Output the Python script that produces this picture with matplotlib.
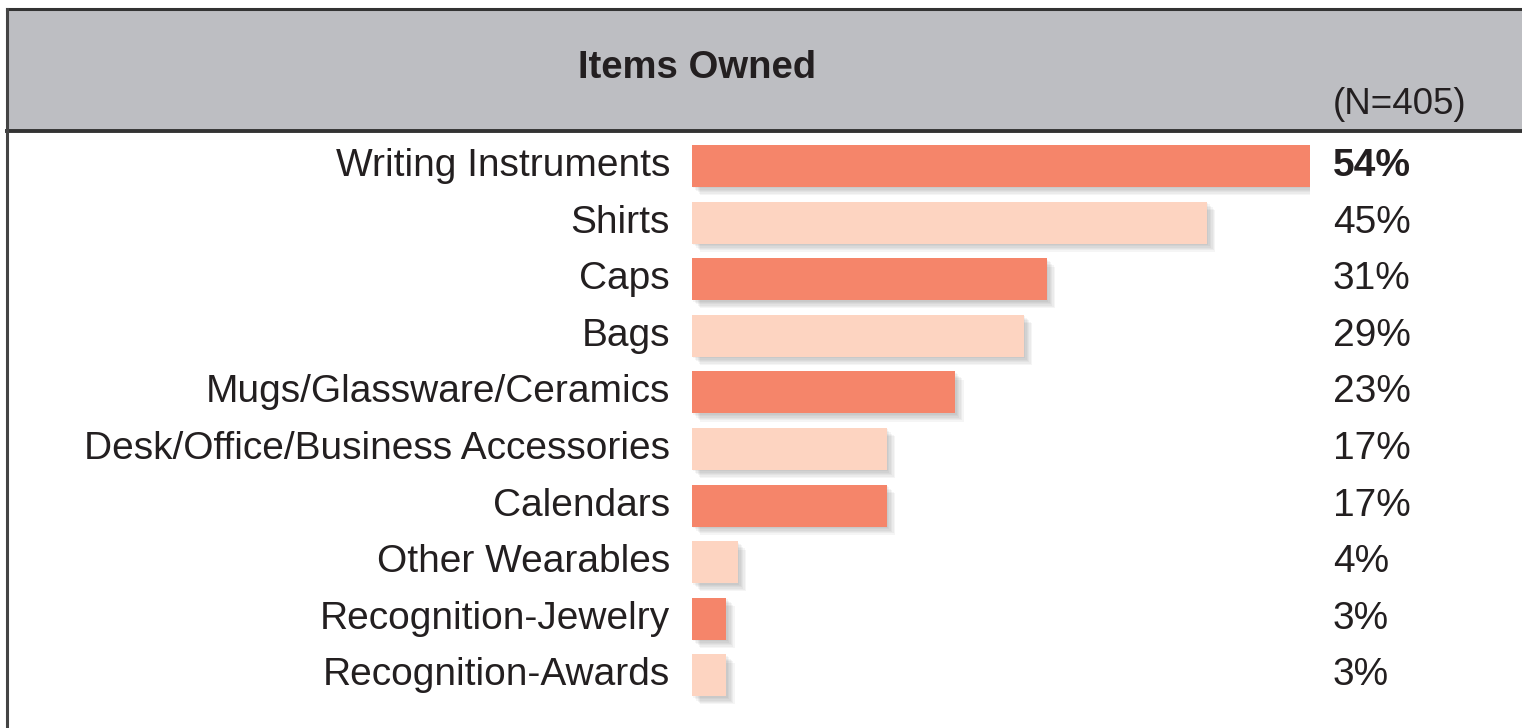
import matplotlib.pyplot as plt
import matplotlib.patheffects as pe
from matplotlib.lines import Line2D
from matplotlib.patches import Rectangle
import matplotlib.transforms as mtransforms

plt.rcParams['font.family'] = ['Liberation Sans', 'DejaVu Sans']

# data
items = ['Writing Instruments', 'Shirts', 'Caps', 'Bags',
         'Mugs/Glassware/Ceramics', 'Desk/Office/Business Accessories',
         'Calendars', 'Other Wearables', 'Recognition-Jewelry',
         'Recognition-Awards']
pct = [54, 45, 31, 29, 23, 17, 17, 4, 3, 3]
title = 'Items Owned'
n_note = '(N=405)'

dark = '#F5856A'
light = '#FDD4C1'
txt = '#231F20'

W, H = 1522, 728
fig = plt.figure(figsize=(W / 100, H / 100), dpi=100)

# header band and frame
fig.patches.append(Rectangle((7 / W, (H - 131) / H), 1, 122 / H,
                             transform=fig.transFigure, facecolor='#BDBEC2',
                             edgecolor='none', zorder=0))
fig.lines.append(Line2D([7 / W, 1], [(H - 9) / H] * 2, transform=fig.transFigure,
                        color='#333333', lw=2.2))
fig.lines.append(Line2D([7 / W, 1], [(H - 131) / H] * 2, transform=fig.transFigure,
                        color='#333333', lw=2.8))
fig.lines.append(Line2D([7 / W] * 2, [0, (H - 9) / H], transform=fig.transFigure,
                        color='#444444', lw=2.2))

fig.text(697 / W, (H - 68) / H, title, ha='center', va='center',
         fontsize=27.5, fontweight='bold', color=txt)
fig.text(1333 / W, (H - 104) / H, n_note, ha='left', va='center',
         fontsize=26.5, color=txt)

# bar axes: 54% maps to the bar end at x=1310 px
x0, x1 = 692, 1310
row = 56.6
top = 166 - row / 2
ax = fig.add_axes([x0 / W, (H - (top + row * 10)) / H, (x1 - x0) / W, row * 10 / H])
ax.set_xlim(0, 54)
ax.set_ylim(9.5, -0.5)
ax.axis('off')

# soft drop shadow made of stacked offset copies
shadow = [pe.SimplePatchShadow(offset=(k, -k), shadow_rgbFace='#555555', alpha=0.06)
          for k in (1, 2, 3, 4, 5, 6)] + [pe.Normal()]

colors = [dark if i % 2 == 0 else light for i in range(len(items))]
bars = ax.barh(range(len(items)), pct, height=0.74, color=colors)
for b in bars:
    b.set_path_effects(shadow)

trans = mtransforms.blended_transform_factory(fig.transFigure, ax.transData)
for i, (name, v) in enumerate(zip(items, pct)):
    ax.annotate(name, xy=(0, i), xytext=(-22, 0), textcoords='offset pixels',
                ha='right', va='center', fontsize=28, color=txt)
    ax.text(1333 / W, i, f'{v}%', transform=trans, ha='left', va='center',
            fontsize=28, color=txt, fontweight='bold' if i == 0 else 'normal')

fig.savefig('out.png', dpi=100, facecolor='white')
